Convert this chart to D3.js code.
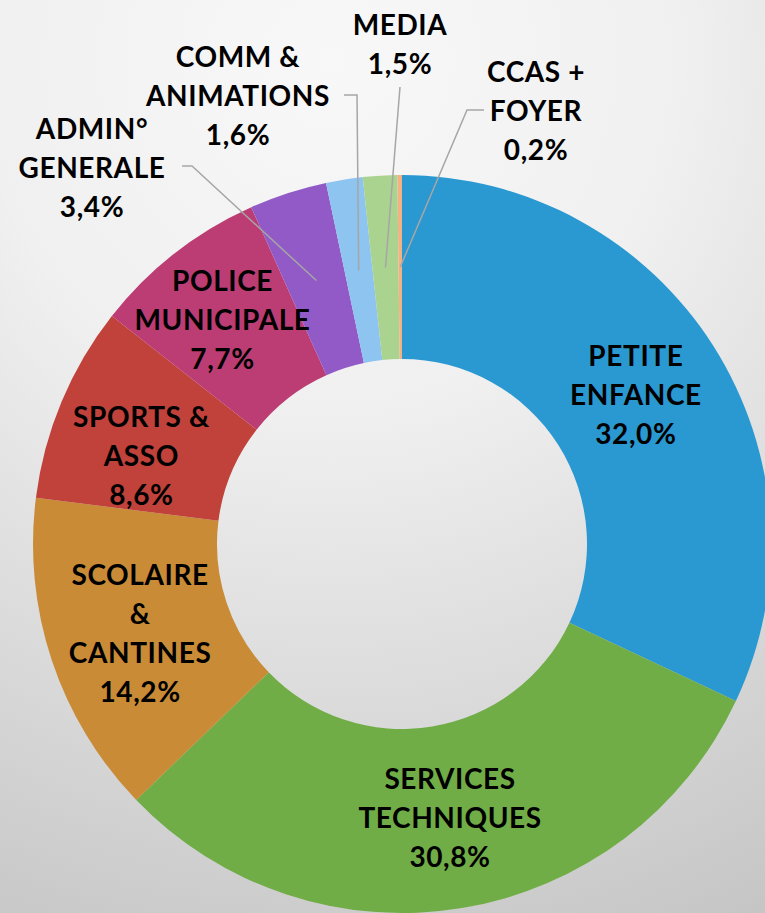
<!DOCTYPE html>
<html>
<head>
<meta charset="utf-8">
<script src="https://cdn.jsdelivr.net/npm/d3@7"></script>
<style>
  html, body { margin: 0; padding: 0; }
  body { width: 765px; height: 913px; overflow: hidden; }
  text { font-family: "Lato", "Open Sans", sans-serif; font-weight: 700; fill: #000; }
</style>
</head>
<body>
<div id="chart"></div>
<script>
// 1. Data (clockwise from 12 o'clock)
const categories = ["PETITE ENFANCE", "SERVICES TECHNIQUES", "SCOLAIRE & CANTINES", "SPORTS & ASSO",
  "POLICE MUNICIPALE", "ADMIN° GENERALE", "COMM & ANIMATIONS", "MEDIA", "CCAS + FOYER"];
const values = [32.0, 30.8, 14.2, 8.6, 7.7, 3.4, 1.6, 1.5, 0.2];
const valueLabels = ["32,0%", "30,8%", "14,2%", "8,6%", "7,7%", "3,4%", "1,6%", "1,5%", "0,2%"];
// how each label is broken into lines
const labelLines = [
  ["PETITE", "ENFANCE"],
  ["SERVICES", "TECHNIQUES"],
  ["SCOLAIRE", "&", "CANTINES"],
  ["SPORTS &", "ASSO"],
  ["POLICE", "MUNICIPALE"],
  ["ADMIN°", "GENERALE"],
  ["COMM &", "ANIMATIONS"],
  ["MEDIA"],
  ["CCAS +", "FOYER"]
];
const colors = ["#2a98d1", "#71ad47", "#c98b36", "#c0423a", "#bb3d73", "#925ac6", "#8ec4f0", "#aad38f", "#f2b283"];

// 2. Layout
const WIDTH = 765, HEIGHT = 913;
const cx = 402, cy = 544;
const outerR = 369, innerR = 185;
const lineH = 39;

const svg = d3.select("#chart").append("svg")
  .attr("width", WIDTH)
  .attr("height", HEIGHT);

// background gradient like the slide
const defs = svg.append("defs");
const grad = defs.append("radialGradient")
  .attr("id", "bg")
  .attr("gradientUnits", "userSpaceOnUse")
  .attr("cx", 330).attr("cy", 60).attr("r", 1000);
grad.append("stop").attr("offset", "0%").attr("stop-color", "#f8f8f8");
grad.append("stop").attr("offset", "35%").attr("stop-color", "#f0f0f0");
grad.append("stop").attr("offset", "100%").attr("stop-color", "#c2c2c2");
svg.append("rect").attr("width", WIDTH).attr("height", HEIGHT).attr("fill", "url(#bg)");

const data = categories.map((c, i) => ({ name: c, value: values[i], label: valueLabels[i], lines: labelLines[i], color: colors[i] }));

const pie = d3.pie().sort(null).value(d => d.value);
const arc = d3.arc().innerRadius(innerR).outerRadius(outerR);
const arcs = pie(data);

const g = svg.append("g").attr("transform", `translate(${cx},${cy})`);

// 3. Slices
g.selectAll("path.slice")
  .data(arcs)
  .enter()
  .append("path")
  .attr("class", "slice")
  .attr("d", arc)
  .attr("fill", d => d.data.color);

// 4. Labels: the big slices get their label on the ring, the thin ones outside with a leader line
// nudges (px, relative to the slice centroid) for the inside labels
const insideNudge = [[0, 0], [3, 1], [1, 2], [-5, 19], [-9, -5]];
// positions of the outside labels (centre of the text block, relative to the chart centre)
const outsidePos = [null, null, null, null, null, [-310, -376], [-164, -448], [-2, -499], [134, -433]];

const outside = i => outsidePos[i] !== null;

function drawBlock(sel, lines, x, y) {
  const n = lines.length;
  const t = sel.append("text")
    .attr("text-anchor", "middle")
    .style("font-size", "28px")
    .style("letter-spacing", "0.6px");
  lines.forEach((ln, k) => {
    t.append("tspan")
      .attr("x", x)
      .attr("y", y + (k - (n - 1) / 2) * lineH)
      .attr("dy", "0.35em")
      .text(ln);
  });
}

arcs.forEach((a, i) => {
  const lines = a.data.lines.concat([a.data.label]);
  const c = arc.centroid(a);
  if (!outside(i)) {
    drawBlock(g, lines, c[0] + insideNudge[i][0], c[1] + insideNudge[i][1]);
  } else {
    const p = outsidePos[i];
    drawBlock(g, lines, p[0], p[1]);
  }
});

// leader lines
const leaders = g.append("g").attr("fill", "none").attr("stroke", "#a6a6a6").attr("stroke-width", 1.5);
// start of each leader (relative to centre) -> elbow -> slice centroid
const leaderStart = { 5: [[-220, -378], [-210, -378]], 6: [[-58, -449], [-45, -449]], 7: [[-2, -457]], 8: [[82, -434], [65, -434]] };
Object.keys(leaderStart).forEach(k => {
  const c = arc.centroid(arcs[+k]);
  const pts = leaderStart[k].concat([c]);
  leaders.append("path").attr("d", d3.line()(pts));
});
</script>
</body>
</html>
